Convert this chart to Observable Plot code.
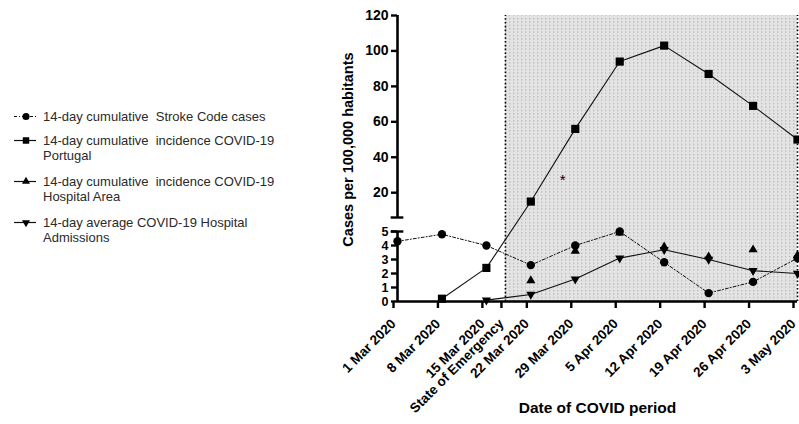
<!DOCTYPE html>
<html>
<head>
<meta charset="utf-8">
<script src="https://cdn.jsdelivr.net/npm/d3@7"></script>
<script src="https://cdn.jsdelivr.net/npm/@observablehq/plot@0.6"></script>
<style>
  html, body { margin: 0; padding: 0; background: #fff; }
  #wrap { position: relative; width: 799px; height: 424px; overflow: hidden; font-family: Arial, "Liberation Sans", sans-serif; }
  #chart { position: absolute; left: 0; top: 0; }
  .leg { position: absolute; left: 0; font-size: 13px; line-height: 15px; color: #2a2a2a; white-space: pre; }
  .leg svg { position: absolute; left: 12px; top: 0; }
  .leg span { position: absolute; left: 43px; top: 0; }
</style>
</head>
<body>
<div id="wrap"><div id="chart"></div></div>
<script>
// ---- data ----
const dates = ["2020-03-01","2020-03-08","2020-03-15","2020-03-22","2020-03-29","2020-04-05","2020-04-12","2020-04-19","2020-04-26","2020-05-03"];
const dateLabels = ["1 Mar 2020","8 Mar 2020","15 Mar 2020","22 Mar 2020","29 Mar 2020","5 Apr 2020","12 Apr 2020","19 Apr 2020","26 Apr 2020","3 May 2020"];
const strokeCodeCases = [4.3, 4.8, 4.0, 2.6, 4.0, 5.0, 2.8, 0.6, 1.4, 3.1];
const incidencePortugal = [null, 0.2, 2.4, 15, 56, 94, 103, 87, 69, 50];
const incidenceHospitalArea = [null, null, null, 1.5, 3.6, 4.9, 3.9, 3.2, 3.7, 3.3];
const hospitalAdmissions = [null, null, 0.1, 0.5, 1.6, 3.1, 3.7, 3.0, 2.2, 2.0];
const emergencyDate = "2020-03-18";
const emergencyLabel = "State of Emergency";
const periodEnd = "2020-05-03";
const asteriskDate = "2020-03-27";
const asteriskValue = 27;
const yTicksLow = [0, 1, 2, 3, 4, 5];
const yTicksHigh = [20, 40, 60, 80, 100, 120];
const seriesNames = [
  "14-day cumulative  Stroke Code cases",
  "14-day cumulative  incidence COVID-19\nPortugal",
  "14-day cumulative  incidence COVID-19\nHospital Area",
  "14-day average COVID-19 Hospital\nAdmissions"
];
const yLabel = "Cases per 100,000 habitants";
const xLabel = "Date of COVID period";

// ---- build table ----
const parse = d3.utcParse("%Y-%m-%d");
const D = dates.map(parse);
function rows(vals) { return D.map((d, i) => ({date: d, value: vals[i]})).filter(r => r.value != null); }
const sStroke = rows(strokeCodeCases);
const sPort = rows(incidencePortugal);
const sArea = rows(incidenceHospitalArea);
const sAdm = rows(hospitalAdmissions);

const invTriangle = {
  draw(context, size) {
    const sqrt3 = Math.sqrt(3);
    const y = -Math.sqrt(size / (sqrt3 * 3));
    context.moveTo(0, -y * 2);
    context.lineTo(-sqrt3 * y, y);
    context.lineTo(sqrt3 * y, y);
    context.closePath();
  }
};

const tickDates = [...D, parse(emergencyDate)];
const tickText = new Map(D.map((d, i) => [+d, dateLabels[i]]));
tickText.set(+parse(emergencyDate), emergencyLabel);

const start = D[0], end = parse(periodEnd), soe = parse(emergencyDate);
const dayBefore = d3.utcDay.offset(start, -1), dayAfter = d3.utcDay.offset(start, 1);

const plot = Plot.plot({
  width: 799,
  height: 424,
  marginLeft: 397,
  marginRight: 2,
  marginTop: 15,
  marginBottom: 123,
  style: {fontFamily: "Arial, 'Liberation Sans', sans-serif", color: "#000", background: "transparent"},
  x: {type: "utc", domain: [start, end]},
  y: {type: "linear", domain: [0, 5, 6, 120], range: [301, 231, 217, 15]},
  marks: [
    // shaded state-of-emergency period
    Plot.rect([0], {x1: () => soe, x2: () => end, y1: () => 0, y2: () => 120, fill: "url(#dotpat)"}),
    Plot.ruleX([soe, end], {y1: 0, y2: 120, stroke: "#000", strokeWidth: 1.6, strokeDasharray: "1.6,2.2"}),
    // axes lines
    Plot.ruleX([start], {y1: 0, y2: 5, stroke: "#000", strokeWidth: 2.6}),
    Plot.ruleX([start], {y1: 6, y2: 120, stroke: "#000", strokeWidth: 2.6}),
    Plot.ruleY([5, 6], {x1: dayBefore, x2: dayAfter, stroke: "#000", strokeWidth: 2.4, clip: false}),
    Plot.ruleY([0], {x1: start, x2: end, stroke: "#000", strokeWidth: 2.6}),
    Plot.axisY(yTicksLow, {
      tickSize: 6, tickPadding: 3, strokeWidth: 2.4, fontWeight: "bold", fontSize: 12.5, label: null, tickFormat: d => String(d)
    }),
    Plot.axisY(yTicksHigh, {
      tickSize: 6, tickPadding: 3, strokeWidth: 2.4, fontWeight: "bold", fontSize: 14, label: null, tickFormat: d => String(d)
    }),
    Plot.axisX(tickDates, {
      tickSize: 7, tickPadding: 13, strokeWidth: 2.4, tickRotate: -45, fontWeight: "bold", fontSize: 13.5,
      label: null, tickFormat: d => tickText.get(+d), textStroke: "none", dx: -4
    }),
    // series lines
    Plot.line(sStroke, {x: "date", y: "value", stroke: "#111", strokeWidth: 1, strokeDasharray: "3,2,1,2"}),
    Plot.line(sPort, {x: "date", y: "value", stroke: "#111", strokeWidth: 1.1}),
    Plot.line(sAdm, {x: "date", y: "value", stroke: "#111", strokeWidth: 1.1}),
    // markers
    Plot.dot(sArea, {x: "date", y: "value", symbol: "triangle", r: 3.4, fill: "#000", stroke: "none"}),
    Plot.dot(sAdm, {x: "date", y: "value", symbol: invTriangle, r: 3.4, fill: "#000", stroke: "none"}),
    Plot.dot(sPort, {x: "date", y: "value", symbol: "square", r: 4.6, fill: "#000", stroke: "none"}),
    Plot.dot(sStroke, {x: "date", y: "value", symbol: "circle", r: 4.2, fill: "#000", stroke: "none"}),
    // annotations
    Plot.text(["*"], {x: () => parse(asteriskDate), y: () => asteriskValue, fontSize: 15, fill: "#000"}),
    Plot.text([yLabel], {frameAnchor: "left", textAnchor: "middle", dx: -49, dy: -9, rotate: -90, fontSize: 14.5, fontWeight: "bold", fill: "#000"}),
    Plot.text([xLabel], {frameAnchor: "bottom", dy: 111, fontSize: 15.5, fontWeight: "bold", fill: "#000"})
  ]
});

// dotted pattern for shaded area
d3.select(plot).insert("defs", ":first-child").html(
  '<pattern id="dotpat" patternUnits="userSpaceOnUse" width="4" height="3.4">' +
  '<rect width="4" height="3.4" fill="#e4e4e4"></rect>' +
  '<rect x="1" y="1" width="1.4" height="1.2" fill="#b5b5b5"></rect></pattern>'
);
document.getElementById("chart").appendChild(plot);

// ---- legend ----
const legendTops = [109, 133, 174, 215];
const legendSymbols = [d3.symbolCircle, d3.symbolSquare, d3.symbolTriangle, invTriangle];
const legendSizes = [40, 42, 28, 28];
const legendDash = ["3,2,1,2", null, null, null];
const wrap = document.getElementById("wrap");
seriesNames.forEach((name, i) => {
  const div = document.createElement("div");
  div.className = "leg";
  div.style.top = legendTops[i] + "px";
  const s = d3.select(div).append("svg").attr("width", 26).attr("height", 15);
  s.append("line").attr("x1", 2).attr("x2", 24).attr("y1", 7.5).attr("y2", 7.5)
    .attr("stroke", "#111").attr("stroke-width", 1.2)
    .attr("stroke-dasharray", legendDash[i]);
  s.append("path").attr("d", d3.symbol(legendSymbols[i], legendSizes[i])())
    .attr("transform", "translate(14,7.5)").attr("fill", "#000");
  const span = document.createElement("span");
  span.textContent = name;
  div.appendChild(span);
  wrap.appendChild(div);
});
</script>
</body>
</html>
